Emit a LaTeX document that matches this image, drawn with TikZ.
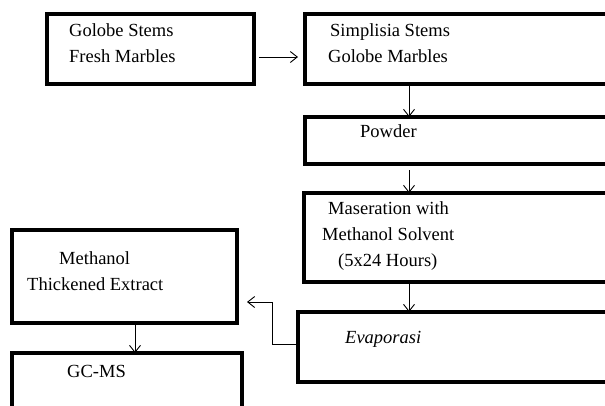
\documentclass[tikz,border=0pt]{standalone}
\usepackage{fontspec}
\setmainfont{Liberation Serif}
\usetikzlibrary{arrows.meta,positioning,calc}

\begin{document}
\begin{tikzpicture}[x=1pt,y=-1pt,
  blk/.style={draw,line width=3.2pt,anchor=north west,inner sep=0pt,outer sep=0pt},
  txt/.style={anchor=base west,inner sep=0pt,align=left,font=\fontsize{18.5}{26}\selectfont},
  arr/.style={-{Straight Barb[length=7pt,width=11pt]},line width=0.9pt}]
  \clip (0,0) rectangle (605,405);
  \node[blk,minimum width=207pt,minimum height=70pt] (stem) at (47,14) {};
  \node[blk,minimum width=320pt,minimum height=70pt] (simp) at (305,14) {};
  \node[blk,minimum width=320pt,minimum height=47pt] (powd) at (305,117) {};
  \node[blk,minimum width=320pt,minimum height=89pt] (mase) at (304,193) {};
  \node[blk,minimum width=330pt,minimum height=70pt] (evap) at (298,312) {};
  \node[blk,minimum width=225pt,minimum height=93pt] (thick) at (12,230) {};
  \node[blk,minimum width=230pt,minimum height=80pt] (gcms) at (12,353) {};
  % texts (base = last line)
  \node[txt] (stemtx) at (69,62) {Golobe Stems\\Fresh Marbles};
  \node[txt] (simptx) at (330,62) {Simplisia Stems\\\hspace*{-2pt}Golobe Marbles};
  \node[txt] (powdtx) at (360,137) {Powder};
  \node[txt] (masetx) at (322,266) {\hspace*{6pt}Maseration with\\Methanol Solvent\\\hspace*{16pt}(5x24 Hours)};
  \node[txt] (thicktx) at (27,290) {\hspace*{32pt}Methanol\\Thickened Extract};
  \node[txt] (evaptx) at (345,343) {\textit{Evaporasi}};
  \node[txt] (gcmstx) at (67,377) {GC-MS};
  % arrows
  \coordinate (col) at (409,0);
  \coordinate (colb) at (135,0);
  \draw[arr] ([xshift=5pt,yshift=-8pt]stem.east) -- ([xshift=-7pt,yshift=-8pt]simp.west);
  \draw[arr] (simp.south -| col) -- (powd.north -| col);
  \draw[arr] ([yshift=-6pt]powd.south -| col) -- (mase.north -| col);
  \draw[arr] (mase.south -| col) -- (evap.north -| col);
  \draw[arr] ([yshift=3pt]evap.west) -- ++(-26,0) |- ([shift={(10pt,-25.5pt)}]thick.east);
  \draw[arr] (thick.south -| colb) -- (gcms.north -| colb);
\end{tikzpicture}
\end{document}
